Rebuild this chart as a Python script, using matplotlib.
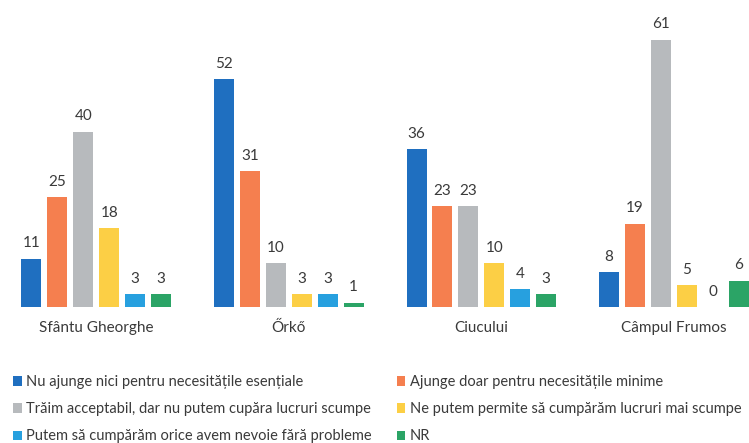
import matplotlib.pyplot as plt
import numpy as np

plt.rcParams["font.family"] = ["Lato", "DejaVu Sans"]

locations = ["Sfântu Gheorghe", "Őrkő", "Ciucului", "Câmpul Frumos"]
series_names = [
    "Nu ajunge nici pentru necesitățile esențiale",
    "Ajunge doar pentru necesitățile minime",
    "Trăim acceptabil, dar nu putem cupăra lucruri scumpe",
    "Ne putem permite să cumpărăm lucruri mai scumpe",
    "Putem să cumpărăm orice avem nevoie fără probleme",
    "NR",
]
nu_ajunge = [11, 52, 36, 8]
doar_minime = [25, 31, 23, 19]
acceptabil = [40, 10, 23, 61]
mai_scumpe = [18, 3, 10, 5]
orice = [3, 3, 4, 0]
nr = [3, 1, 3, 6]
series = [nu_ajunge, doar_minime, acceptabil, mai_scumpe, orice, nr]
colors = ["#1f6fc0", "#f57f4f", "#b7babd", "#fccf45", "#27a0df", "#2ba466"]

W, H = 749, 443
fig = plt.figure(figsize=(W / 100, H / 100), dpi=100)
ax = fig.add_axes([0, 136 / H, 1, (423 - 136) / H])

x = np.arange(len(locations))
pitch = 0.1347
width = 0.104
bars_all = []
for i, (vals, col) in enumerate(zip(series, colors)):
    bars = ax.bar(x + (i - 2.5) * pitch, vals, width, color=col, label=series_names[i])
    bars_all.append(bars)
    for b, v in zip(bars, vals):
        ax.annotate(str(v), (b.get_x() + b.get_width() / 2, v),
                    xytext=(0, 6), textcoords="offset points",
                    ha="center", va="bottom", fontsize=11, color="#3a3a3a")

ax.set_xlim(-0.5, 3.39)
ax.set_ylim(0, 65.5)
ax.set_yticks([])
ax.set_xticks(x)
ax.set_xticklabels(locations, fontsize=11, color="#3a3a3a")
ax.tick_params(axis="x", length=0, pad=10)
for s in ax.spines.values():
    s.set_visible(False)

# legend is row-major in the picture, matplotlib fills columns first
order = [0, 2, 4, 1, 3, 5]
handles = [bars_all[k] for k in order]
labels = [series_names[k] for k in order]
fig.legend(handles, labels, ncol=2, loc="upper left",
           bbox_to_anchor=(0.0, 1 - 362 / H), frameon=False,
           fontsize=10.5, handlelength=0.6, handleheight=0.6, handletextpad=0.3,
           labelspacing=0.9, columnspacing=1.7, labelcolor="#3a3a3a")

fig.savefig("out.png", dpi=100)
